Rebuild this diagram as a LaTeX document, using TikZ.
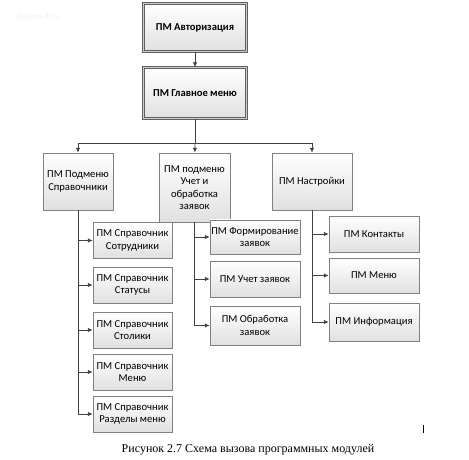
\documentclass[tikz,border=0pt]{standalone}
\usepackage{fontspec}
\setmainfont{Carlito}
\newfontfamily\capfont{Liberation Serif}
\usetikzlibrary{arrows.meta,shadows}
\definecolor{linegray}{gray}{0.25}
\definecolor{boxgray}{gray}{0.88}
\begin{document}
\begin{tikzpicture}[x=1pt, y=1pt,
    modbox/.style={draw=gray, fill=boxgray, top color=white, bottom color=boxgray,
        align=center, inner sep=1pt, font=\fontsize{10.6}{12.5}\selectfont,
        drop shadow={shadow xshift=1pt, shadow yshift=-1pt, opacity=0.25}},
    topbox/.style={modbox, draw=gray!75!black, line width=0.4pt,
        double=gray!40, double distance=1.6pt,
        font=\fontsize{10.6}{12.5}\selectfont\bfseries},
    link/.style={draw=linegray, line width=0.9pt},
    arr/.style={link, -{Latex[length=5pt, width=4.5pt]}}]
        \useasboundingbox (0, 0) rectangle (469, 460);
        \node[text=gray!12, font=\fontsize{9}{10}\selectfont] (mark) at (38, 443) {diplom-it.ru};

        \node[topbox, minimum width=103, minimum height=48] (auth) at (195, 432.5) {ПМ Авторизация};
        \node[topbox, minimum width=103, minimum height=51] (menu) at (195, 367) {ПМ Главное меню};
        \draw[arr] (auth) -- (menu);

        \node[modbox, minimum width=70, minimum height=57] (sprav) at (78, 278.5) {ПМ Подменю\\Справочники};
        \node[modbox, minimum width=71, minimum height=69] (zayav) at (194.5, 272.5) {ПМ подменю\\Учет и\\обработка\\заявок};
        \node[modbox, minimum width=80, minimum height=57] (nastr) at (312, 278.5) {ПМ Настройки};
        \coordinate (bus) at (195, 317);
        \draw[link] (menu) -- (bus);
        \draw[arr] (bus) -| (sprav);
        \draw[arr] (bus) -- (zayav);
        \draw[arr] (bus) -| (nastr);

        % Справочники
        \node[modbox, minimum width=79, minimum height=36] (sotr) at (132.5, 219.5) {ПМ Справочник\\Сотрудники};
        \node[modbox, minimum width=79, minimum height=36] (stat) at (132.5, 175) {ПМ Справочник\\Статусы};
        \node[modbox, minimum width=79, minimum height=36] (stol) at (132.5, 130) {ПМ Справочник\\Столики};
        \node[modbox, minimum width=79, minimum height=36] (smenu) at (132.5, 88) {ПМ Справочник\\Меню};
        \node[modbox, minimum width=79, minimum height=36] (razd) at (132.5, 46) {ПМ Справочник\\Разделы меню};
        \foreach \sub in {sotr, stat, stol, smenu, razd}
            \draw[arr] (sprav) |- (\sub);

        % Учет и обработка заявок
        \node[modbox, minimum width=90, minimum height=34] (form) at (255, 223) {ПМ Формирование\\заявок};
        \node[modbox, minimum width=90, minimum height=36] (uchet) at (255, 181) {ПМ Учет заявок};
        \node[modbox, minimum width=90, minimum height=39] (obr) at (255, 134.5) {ПМ Обработка\\заявок};
        \foreach \sub in {form, uchet, obr}
            \draw[arr] (zayav) |- (\sub);

        % Настройки
        \node[modbox, minimum width=90, minimum height=36] (kont) at (374, 226) {ПМ Контакты};
        \node[modbox, minimum width=90, minimum height=35] (nmenu) at (374, 184.5) {ПМ Меню};
        \node[modbox, minimum width=90, minimum height=38] (info) at (374, 138) {ПМ Информация};
        \foreach \sub in {kont, nmenu, info}
            \draw[arr] (nastr) |- (\sub);

        \node[font=\capfont\fontsize{12}{14}\selectfont] (caption) at (248, 10) {Рисунок 2.7 Схема вызова программных модулей};
        \draw[line width=0.8pt] (423, 27) -- (423, 35);
\end{tikzpicture}
\end{document}
